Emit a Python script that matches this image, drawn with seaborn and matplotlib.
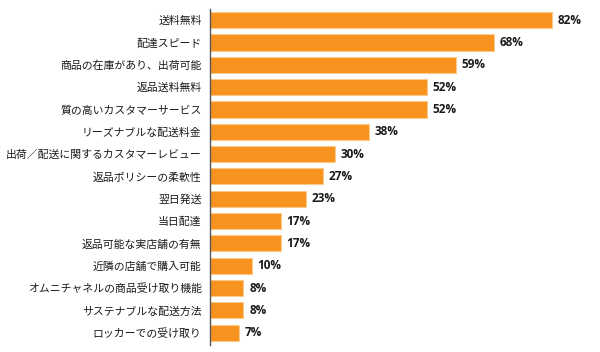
import pandas as pd
import matplotlib
matplotlib.use("Agg")
import matplotlib.pyplot as plt
import seaborn as sns

categories = [
    "送料無料",
    "配達スピード",
    "商品の在庫があり、出荷可能",
    "返品送料無料",
    "質の高いカスタマーサービス",
    "リーズナブルな配送料金",
    "出荷／配送に関するカスタマーレビュー",
    "返品ポリシーの柔軟性",
    "翌日発送",
    "当日配達",
    "返品可能な実店舗の有無",
    "近隣の店舗で購入可能",
    "オムニチャネルの商品受け取り機能",
    "サステナブルな配送方法",
    "ロッカーでの受け取り",
]
values = [82, 68, 59, 52, 52, 38, 30, 27, 23, 17, 17, 10, 8, 8, 7]

df = pd.DataFrame({"item": categories, "pct": values})

sns.set_theme(style="white")
plt.rcParams["font.family"] = ["Noto Sans CJK JP", "DejaVu Sans"]

fig = plt.figure(figsize=(6, 3.52), dpi=100)
ax = fig.add_axes([210 / 600, 7 / 352, 390 / 600, 336 / 352])

sns.barplot(data=df, x="pct", y="item", orient="h", color="#F7931E",
            saturation=1, width=0.72, edgecolor="#FBC98A", linewidth=0.8, ax=ax)

# percent labels to the right of each bar
for i, v in enumerate(values):
    ax.text(v + 1.4, i, f"{v}%", va="center", ha="left",
            fontsize=8.5, fontweight="bold", color="#1a1a1a",
            family=["Open Sans", "DejaVu Sans"])

ax.set_xlim(0, 93.5)
ax.set_ylim(14.55, -0.5)
ax.set_xlabel("")
ax.set_ylabel("")
ax.set_xticks([])
ax.tick_params(axis="y", length=0, pad=6, labelsize=7.8, colors="#1a1a1a")
for s in ["top", "right", "bottom"]:
    ax.spines[s].set_visible(False)
ax.spines["left"].set_color("#555555")
ax.spines["left"].set_linewidth(1)

fig.savefig("out.png", dpi=100)
